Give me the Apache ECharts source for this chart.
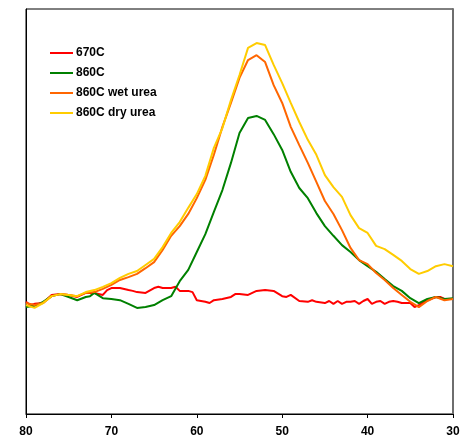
<!DOCTYPE html>
<html>
<head>
<meta charset="utf-8">
<script src="https://cdn.jsdelivr.net/npm/echarts@6/dist/echarts.min.js"></script>
<style>
  html, body { margin: 0; padding: 0; background: #fff; }
  #chart { width: 463px; height: 438px; }
</style>
</head>
<body>
<div id="chart"></div>
<script>
// Series names and colours
const seriesNames = ['670C', '860C', '860C wet urea', '860C dry urea'];
const seriesColors = ['#FF0000', '#008000', '#FF6600', '#FFCC00'];

// x axis ticks (2-theta, plotted descending)
const xTicks = [80, 70, 60, 50, 40, 30];

// 670C trace: [x, intensity]
const trace670 = [
  [80, 27.7], [79.5, 26.9], [79, 27.2], [78, 27.4], [77, 29.4], [76, 29.6], [75, 29.4],
  [74, 28.9], [73, 29.9], [72, 29.9], [71, 29.4], [70.5, 30.6], [70, 31.1], [69, 31.1],
  [68, 30.6], [67.5, 30.4], [67, 30.1], [66, 29.9], [65, 31.1], [64.5, 31.4], [64, 31.1],
  [63, 31.1], [62.5, 31.4], [62, 30.4], [61, 30.4], [60.5, 30.1], [60, 28.1], [59, 27.7],
  [58.5, 27.4], [58, 28.1], [57, 28.4], [56, 28.9], [55.5, 29.6], [55, 29.6], [54, 29.4],
  [53, 30.4], [52, 30.6], [51, 30.4], [50, 29.1], [49.5, 28.9], [49, 29.4], [48, 27.9],
  [47, 27.7], [46.5, 28.1], [46, 27.7], [45, 27.4], [44.5, 27.9], [44, 27.2], [43.5, 27.9],
  [43, 27.2], [42.5, 27.7], [42, 27.7], [41.5, 27.9], [41, 27.2], [40.5, 27.9], [40, 28.4],
  [39.5, 27.2], [39, 27.7], [38.5, 27.9], [38, 27.2], [37.5, 27.7], [37, 27.9], [36.5, 27.7],
  [36, 27.4], [35, 27.4], [34.5, 26.4], [34, 26.9], [33, 28.1], [32, 28.9], [31.5, 28.9],
  [31, 28.4], [30, 28.4]
];

// 860C trace
const trace860 = [
  [80, 26.4], [79, 26.7], [78, 27.7], [77, 29.1], [76, 29.6], [75, 28.9], [74, 28.1],
  [73, 28.9], [72.5, 29.1], [72, 29.9], [71, 28.6], [70, 28.4], [69, 28.1], [68, 27.2],
  [67, 26.2], [66, 26.4], [65, 26.9], [64, 28.1], [63, 29.1], [62, 32.8], [61, 35.6],
  [60, 40.0], [59, 44.4], [58, 49.9], [57, 55.3], [56, 62.0], [55, 69.4], [54, 73.1],
  [53, 73.6], [52, 72.6], [51, 69.1], [50, 65.2], [49, 59.8], [48, 55.8], [47, 53.3],
  [46, 49.6], [45, 46.4], [44, 44.0], [43, 41.7], [42, 40.0], [41, 38.0], [40, 36.5],
  [39, 35.1], [38, 33.3], [37, 31.6], [36, 30.4], [35, 28.6], [34, 27.4], [33, 28.4],
  [32, 28.9], [31, 28.4], [30, 28.6]
];

// 860C wet urea trace
const traceWet = [
  [80, 27.4], [79, 26.9], [78, 27.4], [77, 29.1], [76, 29.6], [75, 29.4], [74, 29.1],
  [73, 29.9], [72, 30.1], [71, 30.9], [70, 31.9], [69, 33.1], [68, 33.8], [67, 34.6],
  [66, 36.0], [65, 37.5], [64, 40.5], [63, 44.0], [62, 46.4], [61, 49.4], [60, 53.3],
  [59, 57.8], [58, 64.0], [57, 70.9], [56, 76.8], [55, 83.0], [54, 87.4], [53, 88.6],
  [52, 86.9], [51, 81.2], [50, 76.8], [49, 70.9], [48, 66.4], [47, 62.0], [46, 57.3],
  [45, 52.6], [44, 49.4], [43, 45.4], [42, 41.0], [41, 38.0], [40, 37.0], [39, 34.8],
  [38, 33.1], [37, 31.1], [36, 29.4], [35, 27.7], [34, 26.4], [33, 27.9], [32, 28.9],
  [31, 28.1], [30, 28.4]
];

// 860C dry urea trace
const traceDry = [
  [80, 26.9], [79, 26.2], [78, 27.4], [77, 29.1], [76, 29.6], [75, 29.4], [74, 29.1],
  [73, 30.1], [72, 30.6], [71, 31.4], [70, 32.3], [69, 33.6], [68, 34.6], [67, 35.3],
  [66, 36.8], [65, 38.3], [64, 41.2], [63, 44.7], [62, 47.4], [61, 50.9], [60, 54.3],
  [59, 58.8], [58, 65.7], [57, 70.6], [56, 77.5], [55, 83.7], [54, 90.4], [53, 91.6],
  [52, 91.1], [51, 86.2], [50, 81.7], [49, 76.8], [48, 72.1], [47, 67.7], [46, 64.0],
  [45, 59.0], [44, 56.0], [43, 53.6], [42, 49.1], [41, 45.9], [40, 44.7], [39, 41.5],
  [38, 40.7], [37, 39.3], [36, 37.8], [35, 35.8], [34, 34.6], [33, 35.3], [32, 36.5],
  [31, 37.0], [30, 36.5]
];

const traces = [trace670, trace860, traceWet, traceDry];
const font = '"Liberation Sans", Arial, sans-serif';

const chart = echarts.init(document.getElementById('chart'), null, { renderer: 'canvas' });

chart.setOption({
  animation: false,
  backgroundColor: '#fff',
  grid: {
    left: 26, right: 10, top: 9, bottom: 23,
    show: true, borderColor: '#000', borderWidth: 1
  },
  legend: {
    orient: 'vertical',
    left: 50, top: 43,
    padding: 0,
    icon: 'rect',
    itemWidth: 23, itemHeight: 2, itemGap: 0,
    data: seriesNames,
    textStyle: {
      fontFamily: font, fontSize: 12, fontWeight: 'bold', color: '#000',
      lineHeight: 20, padding: [0, 0, 0, -2]
    }
  },
  xAxis: {
    type: 'value',
    min: 30, max: 80, interval: 10,
    inverse: true,
    splitLine: { show: false },
    axisLine: { lineStyle: { color: '#000', width: 1 } },
    axisTick: { show: true, length: 4, lineStyle: { color: '#000' } },
    axisLabel: {
      fontFamily: font, fontSize: 12, fontWeight: 'bold', color: '#000', margin: 12,
      formatter: v => (xTicks.includes(v) ? String(v) : '')
    }
  },
  yAxis: [
    {
      type: 'value', min: 0, max: 100,
      splitLine: { show: false },
      axisLine: { show: true, lineStyle: { color: '#000', width: 1 } },
      axisTick: { show: false },
      axisLabel: { show: false }
    },
    {
      type: 'value', min: 0, max: 100, position: 'right',
      splitLine: { show: false },
      axisLine: { show: true, onZero: false, lineStyle: { color: '#6e6e6e', width: 2 } },
      axisTick: { show: false },
      axisLabel: { show: false }
    }
  ],
  series: seriesNames.map((name, i) => ({
    name,
    type: 'line',
    yAxisIndex: 0,
    data: traces[i],
    symbol: 'none',
    smooth: false,
    color: seriesColors[i],
    lineStyle: { color: seriesColors[i], width: 2 }
  }))
});
</script>
</body>
</html>
